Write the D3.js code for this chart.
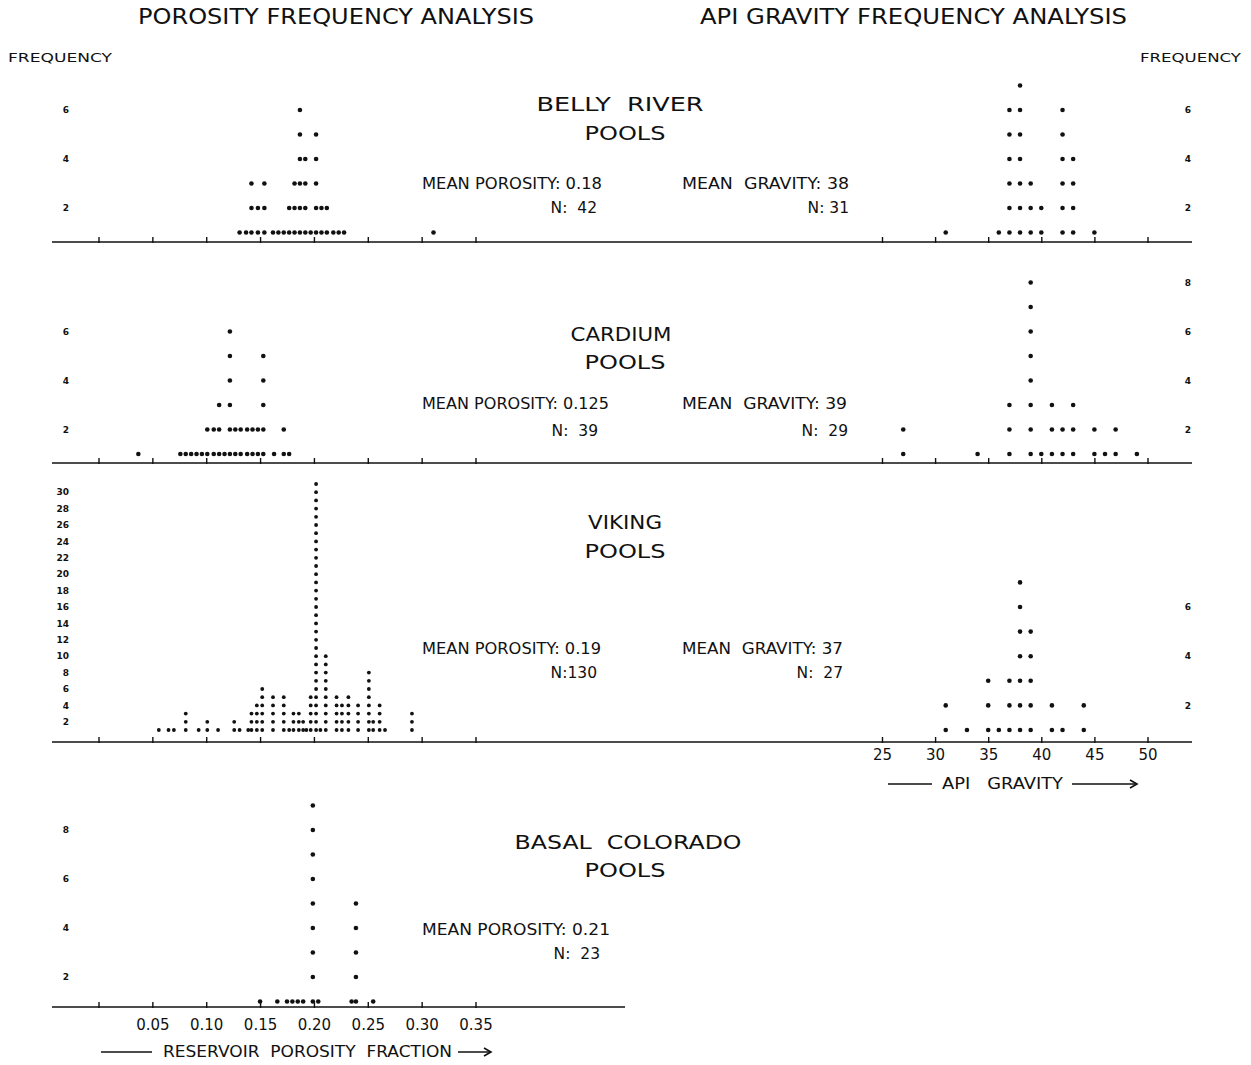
<!DOCTYPE html>
<html><head><meta charset="utf-8">
<script src="https://cdn.jsdelivr.net/npm/d3@7"></script>
<style>body{margin:0;background:#fff}svg{display:block}text{font-family:"DejaVu Sans",sans-serif;fill:#111;white-space:pre}</style>
</head><body><svg id="c" width="1251" height="1065"></svg>
<script>
// ---------- data ----------
const porosityTickValues = [0, 0.05, 0.10, 0.15, 0.20, 0.25, 0.30, 0.35];
const porosityTickLabels = ["", "0.05", "0.10", "0.15", "0.20", "0.25", "0.30", "0.35"];
const gravityTickValues = [25, 30, 35, 40, 45, 50];

// [value, number of pools]
const bellyPorosity = [[0.131,1],[0.137,1],[0.142,3],[0.148,2],[0.154,3],[0.162,1],[0.167,1],[0.172,1],[0.177,2],[0.182,3],[0.187,6],[0.192,4],[0.197,1],[0.202,5],[0.207,2],[0.212,2],[0.218,1],[0.223,1],[0.228,1],[0.311,1]];
const bellyGravity = [[31,1],[36,1],[37,6],[38,7],[39,3],[40,2],[42,6],[43,4],[45,1]];
const cardiumPorosity = [[0.037,1],[0.076,1],[0.081,1],[0.086,1],[0.091,1],[0.096,1],[0.101,2],[0.107,2],[0.112,3],[0.117,1],[0.122,6],[0.127,2],[0.132,2],[0.138,2],[0.143,2],[0.148,2],[0.153,5],[0.163,1],[0.172,2],[0.177,1]];
const cardiumGravity = [[27,2],[34,1],[37,3],[39,8],[40,1],[41,3],[42,2],[43,3],[45,2],[46,1],[47,2],[49,1]];
const vikingPorosity = [[0.056,1],[0.065,1],[0.070,1],[0.081,3],[0.093,1],[0.101,2],[0.111,1],[0.126,2],[0.131,1],[0.139,1],[0.142,3],[0.147,4],[0.152,6],[0.162,5],[0.172,5],[0.177,1],[0.181,3],[0.186,3],[0.190,2],[0.193,1],[0.197,5],[0.202,31],[0.206,1],[0.211,10],[0.221,5],[0.226,4],[0.232,5],[0.241,4],[0.251,8],[0.255,2],[0.261,4],[0.266,1],[0.291,3]];
const vikingGravity = [[31,2],[33,1],[35,3],[36,1],[37,3],[38,7],[39,5],[41,2],[42,1],[44,2]];
const basalPorosity = [[0.150,1],[0.166,1],[0.175,1],[0.180,1],[0.185,1],[0.190,1],[0.199,9],[0.204,1],[0.235,1],[0.239,5],[0.255,1]];

const bellyLeftTicks = [2,4,6], bellyRightTicks = [2,4,6];
const cardiumLeftTicks = [2,4,6], cardiumRightTicks = [2,4,6,8];
const vikingLeftTicks = [2,4,6,8,10,12,14,16,18,20,22,24,26,28,30], vikingRightTicks = [2,4,6];
const basalLeftTicks = [2,4,6,8];

const poolNames = [["BELLY  RIVER","POOLS"],["CARDIUM","POOLS"],["VIKING","POOLS"],["BASAL  COLORADO","POOLS"]];
const meanPorosityText = ["MEAN POROSITY: 0.18","MEAN POROSITY: 0.125","MEAN POROSITY: 0.19","MEAN POROSITY: 0.21"];
const nPorosityText = ["N:  42","N:  39","N:130","N:  23"];
const meanGravityText = ["MEAN  GRAVITY: 38","MEAN  GRAVITY: 39","MEAN  GRAVITY: 37",null];
const nGravityText = ["N: 31","N:  29","N:  27",null];

// ---------- drawing ----------
const svg = d3.select("#c");
const xPor = d3.scaleLinear().domain([0, 0.35]).range([98.5, 475.5]);
const xGrav = d3.scaleLinear().domain([25, 50]).range([882, 1147.5]);

function txt(s, x, y, size, opts = {}) {
  const t = svg.append("text").attr("x", x).attr("y", y).attr("dy", "0.36em")
    .attr("font-size", size).attr("text-anchor", opts.anchor || "start").text(s);
  if (opts.len) t.attr("textLength", opts.len).attr("lengthAdjust", opts.adjust || "spacingAndGlyphs");
  if (opts.weight) t.attr("font-weight", opts.weight);
  return t;
}

// headings
txt("POROSITY FREQUENCY ANALYSIS", 138, 16, 22, {len: 396});
txt("API GRAVITY FREQUENCY ANALYSIS", 700, 16, 22, {len: 427});
txt("FREQUENCY", 8, 57, 13, {len: 104});
txt("FREQUENCY", 1140, 57, 13, {len: 101});

const layout = [
  {base: 242, lineEnd: 1192, row1: 232.5, stepP: 24.5, stepG: 24.5, por: bellyPorosity, grav: bellyGravity, lt: bellyLeftTicks, rt: bellyRightTicks, nameY: [104,133], nameLen: [167,81], statY: [184,207], mpLen: 180, npX: 597, mgLen: 167, ngX: 849, gLabels: false, pLabels: false},
  {base: 463, lineEnd: 1192, row1: 454, stepP: 24.5, stepG: 24.5, por: cardiumPorosity, grav: cardiumGravity, lt: cardiumLeftTicks, rt: cardiumRightTicks, nameY: [334,362], nameLen: [101,81], statY: [404,430], mpLen: 187, npX: 598, mgLen: 165, ngX: 848, gLabels: false, pLabels: false},
  {base: 742, lineEnd: 1192, row1: 730, stepP: 8.2, stepG: 24.6, por: vikingPorosity, grav: vikingGravity, lt: vikingLeftTicks, rt: vikingRightTicks, nameY: [522,551], nameLen: [74,81], statY: [649,672], mpLen: 179, npX: 597, mgLen: 161, ngX: 843, gLabels: true, pLabels: false},
  {base: 1007, lineEnd: 625, row1: 1001.5, stepP: 24.5, stepG: 24.5, por: basalPorosity, grav: null, lt: basalLeftTicks, rt: null, nameY: [842,870], nameLen: [227,81], statY: [930,953], mpLen: 188, npX: 600, gLabels: false, pLabels: true}
];
const nameCx = [620, 621, 625, 628];

layout.forEach((p, i) => {
  const g = svg.append("g");
  // baseline
  g.append("line").attr("x1", 52).attr("x2", p.lineEnd).attr("y1", p.base).attr("y2", p.base)
    .attr("stroke", "#111").attr("stroke-width", 1.6);
  // porosity ticks
  const ap = d3.axisBottom(xPor).tickValues(porosityTickValues).tickSizeInner(-6).tickSizeOuter(0)
    .tickPadding(p.pLabels ? 11 : 0)
    .tickFormat((d, k) => p.pLabels ? porosityTickLabels[k] : "");
  const gp = g.append("g").attr("transform", `translate(0,${p.base + 1})`).call(ap);
  gp.select(".domain").remove();
  gp.selectAll("line").attr("stroke", "#111").attr("stroke-width", 1.4);
  gp.selectAll("text").attr("font-size", 15).attr("font-family", "DejaVu Sans").attr("fill", "#111");
  if (p.grav) {
    const ag = d3.axisBottom(xGrav).tickValues(gravityTickValues).tickSizeInner(-6).tickSizeOuter(0)
      .tickPadding(p.gLabels ? 6 : 0).tickFormat(d => p.gLabels ? d : "");
    const gg = g.append("g").attr("transform", `translate(0,${p.base + 1})`).call(ag);
    gg.select(".domain").remove();
    gg.selectAll("line").attr("stroke", "#111").attr("stroke-width", 1.4);
    gg.selectAll("text").attr("font-size", 15).attr("font-family", "DejaVu Sans").attr("fill", "#111");
  }
  // frequency scales
  const yP = d3.scaleLinear().domain([1, 2]).range([p.row1, p.row1 - p.stepP]);
  const yG = d3.scaleLinear().domain([1, 2]).range([p.row1, p.row1 - p.stepG]);
  p.lt.forEach(v => txt(v, 69, yP(v), 9, {anchor: "end", weight: "bold"}));
  if (p.rt) p.rt.forEach(v => txt(v, 1188, yG(v), 9, {anchor: "middle", weight: "bold"}));
  // dots
  const rP = p.stepP < 10 ? 1.9 : 2.3;
  const porDots = p.por.flatMap(([v, c]) => d3.range(1, c + 1).map(k => ({v, k})));
  g.selectAll(null).data(porDots).join("circle")
    .attr("cx", d => xPor(d.v)).attr("cy", d => yP(d.k)).attr("r", rP).attr("fill", "#111");
  if (p.grav) {
    const gravDots = p.grav.flatMap(([v, c]) => d3.range(1, c + 1).map(k => ({v, k})));
    g.selectAll(null).data(gravDots).join("circle")
      .attr("cx", d => xGrav(d.v)).attr("cy", d => yG(d.k)).attr("r", 2.3).attr("fill", "#111");
  }
  // names
  txt(poolNames[i][0], nameCx[i], p.nameY[0], 20, {anchor: "middle", len: p.nameLen[0]});
  txt(poolNames[i][1], 625, p.nameY[1], 20, {anchor: "middle", len: p.nameLen[1]});
  // stats
  txt(meanPorosityText[i], 422, p.statY[0], 15, {len: p.mpLen});
  txt(nPorosityText[i], p.npX, p.statY[1], 15.5, {anchor: "end"});
  if (meanGravityText[i]) {
    txt(meanGravityText[i], 682, p.statY[0], 15, {len: p.mgLen});
    txt(nGravityText[i], p.ngX, p.statY[1], 15.5, {anchor: "end"});
  }
});

// axis titles with arrows
function arrowTitle(label, x0, x1, tx0, tx1, x2, x3, y) {
  svg.append("line").attr("x1", x0).attr("x2", x1).attr("y1", y).attr("y2", y).attr("stroke", "#111").attr("stroke-width", 1.5);
  txt(label, tx0, y, 15, {len: tx1 - tx0});
  svg.append("line").attr("x1", x2).attr("x2", x3).attr("y1", y).attr("y2", y).attr("stroke", "#111").attr("stroke-width", 1.5);
  svg.append("path").attr("d", `M${x3 - 7},${y - 4} L${x3},${y} L${x3 - 7},${y + 4}`)
    .attr("fill", "none").attr("stroke", "#111").attr("stroke-width", 1.6);
}
arrowTitle("RESERVOIR  POROSITY  FRACTION", 101, 152, 163, 452, 458, 491, 1052);
arrowTitle("API   GRAVITY", 888, 932, 942, 1063, 1072, 1137, 784);
</script></body></html>
